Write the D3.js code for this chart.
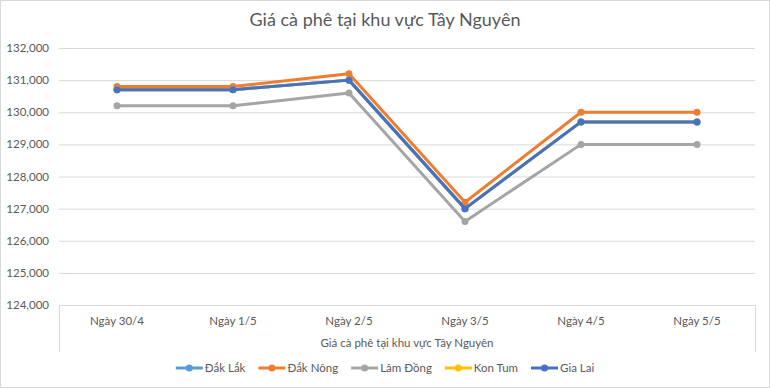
<!DOCTYPE html>
<html>
<head>
<meta charset="utf-8">
<script src="https://cdn.jsdelivr.net/npm/d3@7"></script>
<style>
  body { margin: 0; background: #fff; }
  text { font-family: Lato, "Open Sans", sans-serif; fill: #595959; }
</style>
</head>
<body>
<div id="chart"></div>
<script>
// chart data
const days = ["Ngày 30/4", "Ngày 1/5", "Ngày 2/5", "Ngày 3/5", "Ngày 4/5", "Ngày 5/5"];
const seriesNames = ["Đắk Lắk", "Đắk Nông", "Lâm Đồng", "Kon Tum", "Gia Lai"];
const dakLak   = [130700, 130700, 131000, 127000, 129700, 129700];
const dakNong  = [130800, 130800, 131200, 127200, 130000, 130000];
const lamDong  = [130200, 130200, 130600, 126600, 129000, 129000];
const konTum   = [130700, 130700, 131000, 127000, 129700, 129700];
const giaLai   = [130700, 130700, 131000, 127000, 129700, 129700];
const yTicks = [124000, 125000, 126000, 127000, 128000, 129000, 130000, 131000, 132000];
const colors = ["#5B9BD5", "#ED7D31", "#A5A5A5", "#FFC000", "#4472C4"];

const W = 770, H = 388;
const svg = d3.select("#chart").append("svg")
    .attr("width", W).attr("height", H);

// outer border
svg.append("rect")
    .attr("x", 0.5).attr("y", 0.5)
    .attr("width", W - 1).attr("height", H - 1)
    .attr("fill", "#fff").attr("stroke", "#D9D9D9");

const plotLeft = 59, plotRight = 755, plotTop = 48, plotBottom = 305;

const x = d3.scaleBand().domain(days).range([plotLeft, plotRight]);
const y = d3.scaleLinear().domain([124000, 132000]).range([plotBottom, plotTop]);

svg.append("text")
    .attr("x", W / 2).attr("y", 26)
    .attr("text-anchor", "middle")
    .style("font-size", "18px")
    .text("Giá cà phê tại khu vực Tây Nguyên");

// gridlines
svg.selectAll(".grid").data(yTicks).enter().append("line")
    .attr("x1", plotLeft).attr("x2", plotRight)
    .attr("y1", d => y(d) + 0.5).attr("y2", d => y(d) + 0.5)
    .attr("stroke", "#D9D9D9");

svg.selectAll(".ytick").data(yTicks).enter().append("text")
    .attr("x", 49).attr("y", d => y(d) + 4)
    .attr("text-anchor", "end")
    .style("font-size", "11.5px")
    .text(d => d3.format(",")(d));

// category axis box
[plotLeft, plotRight].forEach(xx => {
    svg.append("line")
        .attr("x1", xx + 0.5).attr("x2", xx + 0.5)
        .attr("y1", plotBottom).attr("y2", 352)
        .attr("stroke", "#D9D9D9");
});

svg.selectAll(".xtick").data(days).enter().append("text")
    .attr("x", d => x(d) + x.bandwidth() / 2).attr("y", 325)
    .attr("text-anchor", "middle")
    .style("font-size", "11.5px")
    .text(d => d);

svg.append("text")
    .attr("x", (plotLeft + plotRight) / 2).attr("y", 347)
    .attr("text-anchor", "middle")
    .style("font-size", "11.5px")
    .text("Giá cà phê tại khu vực Tây Nguyên");

// lines
const allSeries = [dakLak, dakNong, lamDong, konTum, giaLai];
const line = d3.line()
    .x((d, i) => x(days[i]) + x.bandwidth() / 2)
    .y(d => y(d));

allSeries.forEach((vals, si) => {
    const g = svg.append("g");
    g.append("path")
        .datum(vals)
        .attr("d", line)
        .attr("fill", "none")
        .attr("stroke", colors[si])
        .attr("stroke-width", 3)
        .attr("stroke-linejoin", "round");
    g.selectAll("circle").data(vals).enter().append("circle")
        .attr("cx", (d, i) => x(days[i]) + x.bandwidth() / 2)
        .attr("cy", d => y(d))
        .attr("r", 3.5)
        .attr("fill", colors[si]);
});

// legend
const legend = svg.append("g");
let lx = 0;
const gap = 13;
seriesNames.forEach((name, i) => {
    const item = legend.append("g").attr("transform", `translate(${lx},0)`);
    item.append("line")
        .attr("x1", 0).attr("x2", 27).attr("y1", 0).attr("y2", 0)
        .attr("stroke", colors[i]).attr("stroke-width", 3);
    item.append("circle").attr("cx", 13.5).attr("cy", 0).attr("r", 3.5).attr("fill", colors[i]);
    const t = item.append("text")
        .attr("x", 29).attr("y", 4)
        .style("font-size", "11.5px")
        .text(name);
    lx += 29 + t.node().getComputedTextLength() + gap;
});
const lw = lx - gap;
legend.attr("transform", `translate(${(W - lw) / 2},368)`);
</script>
</body>
</html>
